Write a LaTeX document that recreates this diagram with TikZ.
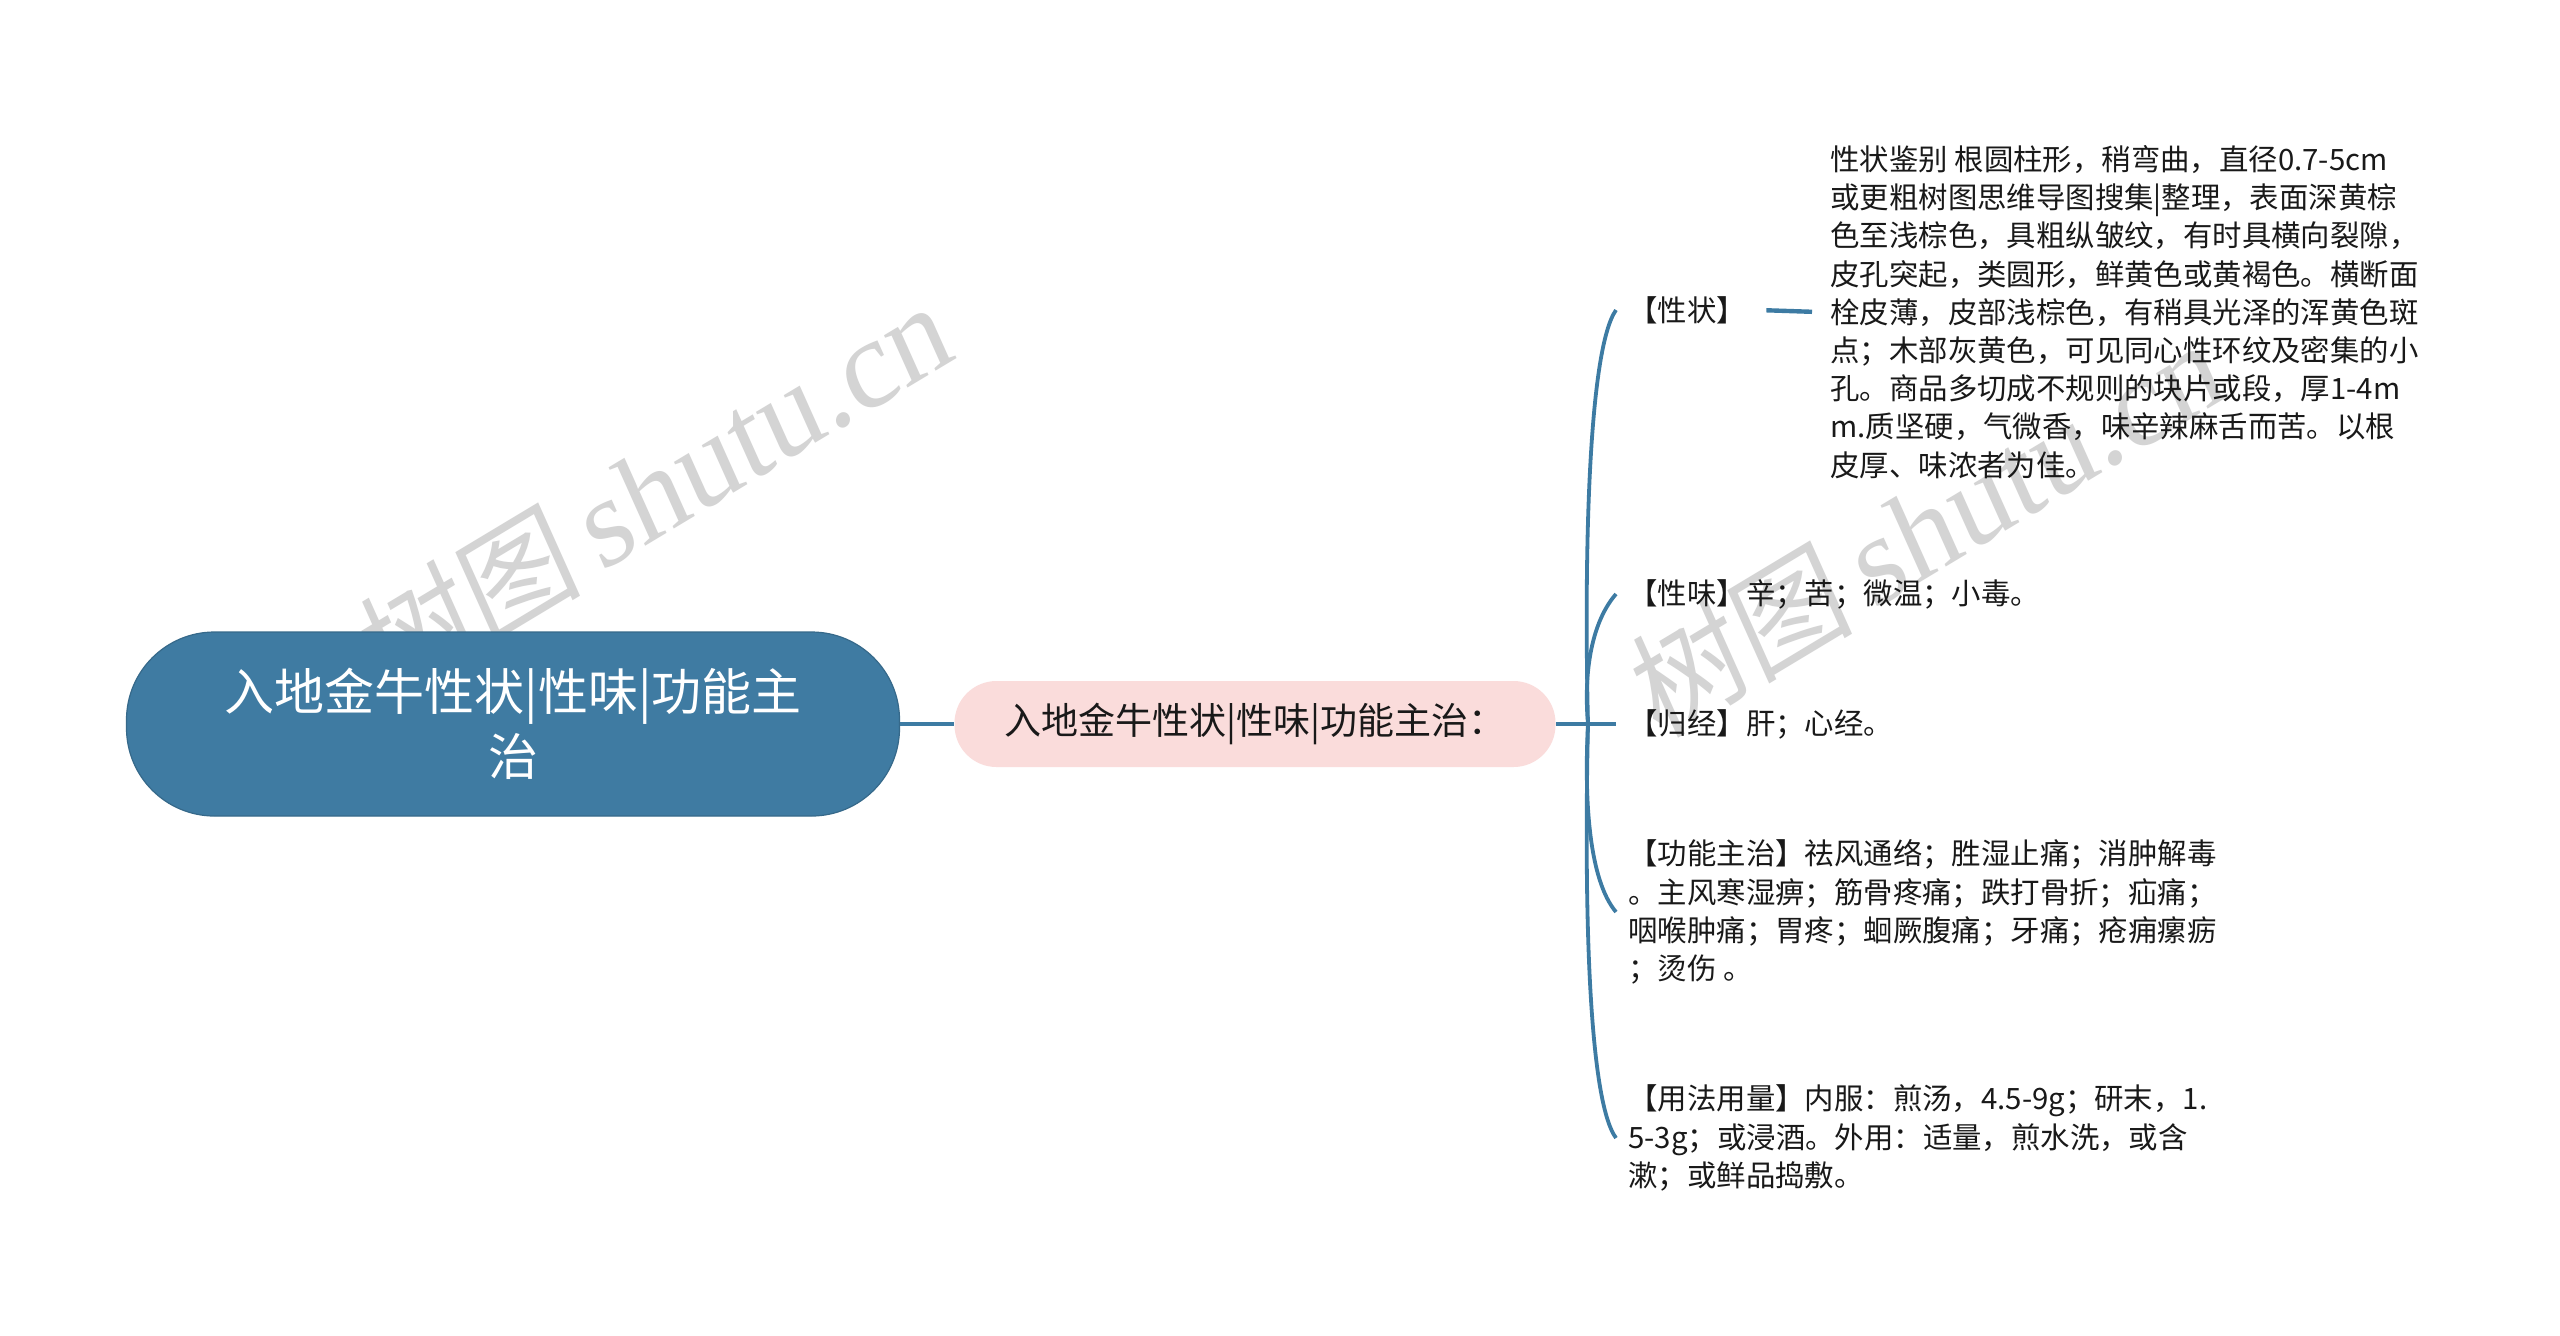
\documentclass[tikz,border=0pt]{standalone}
\usepackage{fontspec}
\setmainfont{Noto Sans CJK SC}
\newfontfamily\wmlatin[FakeSlant=0.12]{Liberation Serif}
\newfontfamily\wmcjk[FakeSlant=0.12]{Noto Sans CJK SC}
\definecolor{rootblue}{HTML}{3F7BA2}
\definecolor{linkblue}{HTML}{3D7BA3}
\definecolor{pinkfill}{HTML}{FADCDB}
\definecolor{wmgray}{HTML}{D4D4D4}
\tikzset{
  rootbox/.style={fill=rootblue, draw=rootblue!85!black, line width=0.6pt, rounded corners=44pt,
    minimum width=386.5pt, minimum height=92pt, text=white, align=center,
    font=\fontsize{25pt}{32.5pt}\selectfont},
  subbox/.style={fill=pinkfill, draw=none, rounded corners=21pt,
    minimum width=300.5pt, minimum height=43pt, text=black!90,
    font=\fontsize{18.5pt}{22pt}\selectfont},
  leaf/.style={anchor=west, inner xsep=6pt, inner ysep=0pt, align=left, text=black!90,
    font=\fontsize{14.7pt}{19.1pt}\selectfont},
  link/.style={draw=linkblue, line width=1.9pt},
  watermark/.style={text=wmgray, rotate=31, inner sep=0pt}
}
\begin{document}
\begin{tikzpicture}[x=0.5pt, y=-0.5pt]
\useasboundingbox[fill=white] (0,0) rectangle (2560,1335);
% watermarks
\node[watermark] (wm1) at (650,492) {\wmcjk\fontsize{58pt}{58pt}\selectfont 树图\,\wmlatin\fontsize{62pt}{62pt}\selectfont shutu.cn};
\node[watermark] (wm2) at (1922,530) {\wmcjk\fontsize{58pt}{58pt}\selectfont 树图\,\wmlatin\fontsize{62pt}{62pt}\selectfont shutu.cn};
% main nodes
\node[rootbox] (root) at (513,724) {入地金牛性状|性味|功能主\\治};
\node[subbox] (sub) at (1255,724) {入地金牛性状|性味|功能主治：};
% leaves
\node[leaf] (xz) at (1616,310) {【性状】};
\node[leaf] (xzl) at (1818,312) {性状鉴别 根圆柱形，稍弯曲，直径0.7-5cm\\
或更粗树图思维导图搜集|整理，表面深黄棕\\
色至浅棕色，具粗纵皱纹，有时具横向裂隙，\\
皮孔突起，类圆形，鲜黄色或黄褐色。横断面\\
栓皮薄，皮部浅棕色，有稍具光泽的浑黄色斑\\
点；木部灰黄色，可见同心性环纹及密集的小\\
孔。商品多切成不规则的块片或段，厚1-4m\\
m.质坚硬，气微香，味辛辣麻舌而苦。以根\\
皮厚、味浓者为佳。};
\node[leaf] (xw) at (1616,594) {【性味】辛；苦；微温；小毒。};
\node[leaf] (gj) at (1616,724) {【归经】肝；心经。};
\node[leaf] (gn) at (1616,912) {【功能主治】祛风通络；胜湿止痛；消肿解毒\\
。主风寒湿痹；筋骨疼痛；跌打骨折；疝痛；\\
咽喉肿痛；胃疼；蛔厥腹痛；牙痛；疮痈瘰疬\\
；烫伤 。};
\node[leaf] (yf) at (1616,1138) {【用法用量】内服：煎汤，4.5-9g；研末，1.\\
5-3g；或浸酒。外用：适量，煎水洗，或含\\
漱；或鲜品捣敷。};
\coordinate (J) at (1588,724);
% connectors
\draw[link] (root.east) -- (sub.west);
\draw[link] (sub.east) -- (gj.west);
\draw[link] (J) .. controls (1584,560) and (1588,350) .. (xz.west);
\draw[link] (J) .. controls (1584,680) and (1589,625) .. (xw.west);
\draw[link] (J) .. controls (1584,800) and (1589,880) .. (gn.west);
\draw[link] (J) .. controls (1584,900) and (1588,1100) .. (yf.west);
\draw[link, line width=2.2pt, shorten <=4pt, shorten >=3pt] (xz.east) -- (xzl.west);
\end{tikzpicture}
\end{document}
